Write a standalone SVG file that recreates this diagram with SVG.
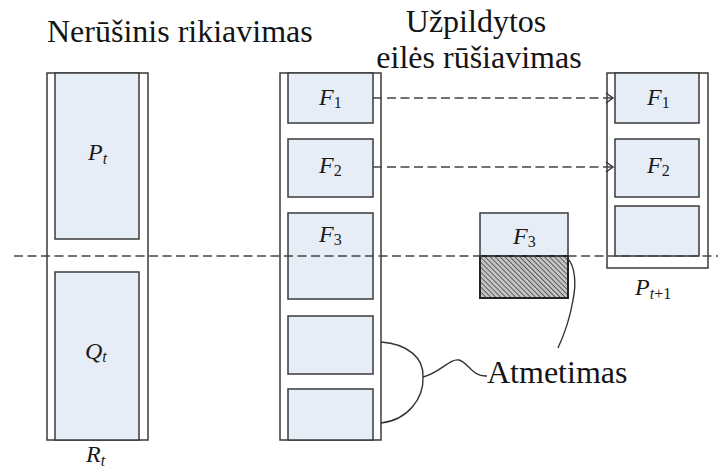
<svg xmlns="http://www.w3.org/2000/svg" width="718" height="472" viewBox="0 0 718 472">
  <style>
    .frame { fill: #ffffff; stroke: #3a3a3a; stroke-width: 1.5; }
    .cell { fill: #e6edf7; stroke: #3a3a3a; stroke-width: 1.5; }
    text { font-family: 'Liberation Serif', 'DejaVu Serif', serif; fill: #141414; }
    .title { font-size: 32px; }
    .lbl { font-size: 24px; font-style: italic; fill: #1a1a1a; }
    .sub { font-size: 16px; }
    .num { font-style: normal; }
    .dash { fill: none; stroke: #444; stroke-width: 1.5; stroke-dasharray: 9 4.5; }
    .curve { fill: none; stroke: #333; stroke-width: 1.4; }
  </style>
  <defs>
    <pattern id="hatch" patternUnits="userSpaceOnUse" width="3.5" height="3.5" patternTransform="rotate(-45)">
      <rect width="3.5" height="3.5" fill="#c4c4c4"/>
      <line x1="0" y1="0" x2="0" y2="3.5" stroke="#2a2a2a" stroke-width="1.3"/>
    </pattern>
    <marker id="chev" markerWidth="10" markerHeight="12" refX="8" refY="6" orient="auto" markerUnits="userSpaceOnUse">
      <path d="M1,1 L8,6 L1,11" fill="none" stroke="#333" stroke-width="1.4"/>
    </marker>
  </defs>

  <!-- headings -->
  <text class="title" font-family="Liberation Serif, serif" x="47" y="42">Nerūšinis rikiavimas</text>
  <text class="title" font-family="Liberation Serif, serif" x="476" y="32" text-anchor="middle">Užpildytos</text>
  <text class="title" font-family="Liberation Serif, serif" x="479" y="68" text-anchor="middle">eilės rūšiavimas</text>

  <!-- combined population R_t -->
  <g id="rt">
    <rect class="frame" x="47" y="73" width="101" height="367"/>
    <rect class="cell" x="55" y="73" width="84" height="166"/>
    <rect class="cell" x="55" y="272" width="84" height="168"/>
    <text class="lbl" x="88" y="160">P<tspan class="sub" dy="4">t</tspan></text>
    <text class="lbl" x="85" y="359">Q<tspan class="sub" dy="3">t</tspan></text>
    <text class="lbl" x="86" y="462">R<tspan class="sub" dy="4">t</tspan></text>
  </g>

  <!-- sorted fronts -->
  <g id="fronts">
    <rect class="frame" x="280" y="73" width="101" height="367"/>
    <rect class="cell" x="288" y="73" width="85" height="50"/>
    <rect class="cell" x="288" y="139" width="85" height="58"/>
    <rect class="cell" x="288" y="213" width="85" height="86"/>
    <rect class="cell" x="288" y="316" width="85" height="58"/>
    <rect class="cell" x="288" y="389" width="85" height="51"/>
    <text class="lbl" x="319" y="105">F<tspan class="sub num" dy="3">1</tspan></text>
    <text class="lbl" x="319" y="173">F<tspan class="sub num" dy="3">2</tspan></text>
    <text class="lbl" x="319" y="242">F<tspan class="sub num" dy="3">3</tspan></text>
  </g>

  <!-- partially accepted front F3 -->
  <g id="f3-split">
    <rect class="cell" x="480" y="213" width="88" height="43"/>
    <rect x="480" y="256" width="88" height="42" fill="url(#hatch)" stroke="#222" stroke-width="2"/>
    <text class="lbl" x="513" y="244">F<tspan class="sub num" dy="3">3</tspan></text>
  </g>

  <!-- next population P_{t+1} -->
  <g id="pt1">
    <rect class="frame" x="607" y="73" width="101" height="195"/>
    <rect class="cell" x="615" y="73" width="84" height="50"/>
    <rect class="cell" x="615" y="139" width="84" height="58"/>
    <rect class="cell" x="615" y="206" width="84" height="50"/>
    <text class="lbl" x="647" y="105">F<tspan class="sub num" dy="3">1</tspan></text>
    <text class="lbl" x="647" y="173">F<tspan class="sub num" dy="3">2</tspan></text>
    <text class="lbl" x="635" y="295">P<tspan class="sub" dy="4">t</tspan><tspan class="sub num">+1</tspan></text>
  </g>

  <!-- rejection label -->
  <g id="atmetimas">
    <text class="title" font-family="Liberation Serif, serif" x="487" y="383">Atmetimas</text>
  </g>

  <!-- connectors -->
  <g id="connectors">
    <line class="dash" x1="14" y1="256" x2="718" y2="256"/>
    <line x1="373" y1="98" x2="382" y2="98" stroke="#444" stroke-width="1.5"/>
    <line class="dash" x1="387" y1="98" x2="613" y2="98" marker-end="url(#chev)"/>
    <line x1="373" y1="167" x2="382" y2="167" stroke="#444" stroke-width="1.5"/>
    <line class="dash" x1="387" y1="167" x2="613" y2="167" marker-end="url(#chev)"/>
    <path class="curve" d="M381,342 C408,344 424,358 423,377 C424,398 408,420 381,423"/>
    <path class="curve" d="M423,377 C440,373 450,358 459,360 C468,362 472,377 487,376"/>
    <path class="curve" d="M567,258 C576,266 576,286 573,300 C570,318 565,333 558,348"/>
  </g>
</svg>
